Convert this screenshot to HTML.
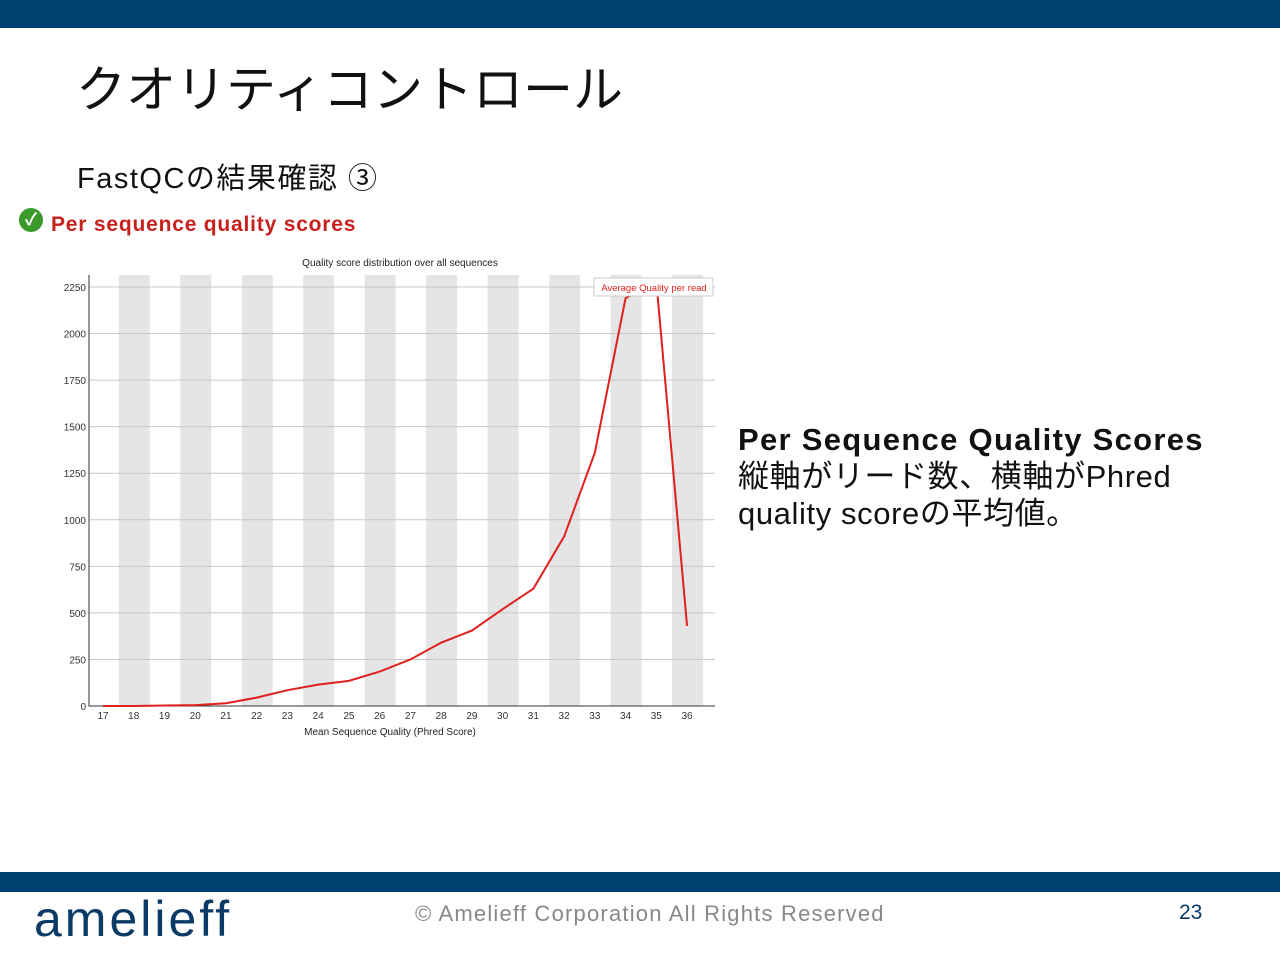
<!DOCTYPE html>
<html><head><meta charset="utf-8"><style>
body{margin:0;width:1280px;height:960px;position:relative;background:#fff;font-family:"Liberation Sans","Noto Sans CJK JP",sans-serif;overflow:hidden}
.abs{position:absolute;white-space:nowrap}
</style></head><body>
<div class="abs" style="left:0;top:0;width:1280px;height:28px;background:#004070"></div>
<div class="abs" style="left:76px;top:50px;font-size:50px;color:#111">クオリティコントロール</div>
<div class="abs" style="left:77px;top:155px;font-size:29px;color:#111;letter-spacing:1.5px">FastQCの結果確認 ③</div>
<div class="abs" style="left:19px;top:208px;width:24px;height:24px;border-radius:50%;background:#3a9a2a;color:#fff;font-size:17px;text-align:center;line-height:24px;font-weight:bold">✓</div>
<div class="abs" style="left:51px;top:213px;font-size:21px;color:#c8201c;font-weight:bold;letter-spacing:0.8px">Per sequence quality scores</div>
<svg class="abs" style="left:0;top:0" width="1280" height="960">
<g id="bands"></g><g id="grid"></g><g id="axes"></g>
<polyline id="line" fill="none" stroke="#e0201c" stroke-width="2"/>
<text x="400" y="266" font-size="10" text-anchor="middle" fill="#222">Quality score distribution over all sequences</text>
<text x="390" y="735" font-size="10" text-anchor="middle" fill="#222">Mean Sequence Quality (Phred Score)</text>
<rect x="594" y="278" width="119" height="18" fill="#fff" stroke="#ccc"/>
<text x="654" y="291" font-size="9.5" text-anchor="middle" fill="#e0201c">Average Quality per read</text>
</svg>
<div class="abs" style="left:738px;top:421px;font-size:31px;color:#111;line-height:37px">
<b style="letter-spacing:1.3px">Per Sequence Quality Scores</b><br><span style="letter-spacing:0.6px">縦軸がリード数、横軸がPhred</span><br><span style="letter-spacing:0.6px">quality scoreの平均値。</span></div>
<div class="abs" style="left:0;top:872px;width:1280px;height:20px;background:#004070"></div>
<div class="abs" style="left:34px;top:890px;font-size:50px;color:#0a3a66;letter-spacing:3px">amelieff</div>
<div class="abs" style="left:415px;top:901px;font-size:22px;color:#888;letter-spacing:1.2px">© Amelieff Corporation All Rights Reserved</div>
<div class="abs" style="left:1179px;top:901px;font-size:21px;color:#0a3a66">23</div>
<script>
const categories=[17,18,19,20,21,22,23,24,25,26,27,28,29,30,31,32,33,34,35,36];
const counts=[0,0,3,5,15,45,85,115,135,185,250,340,405,520,630,910,1360,2190,2280,430];
const yTicks=[0,250,500,750,1000,1250,1500,1750,2000,2250];
const NS="http://www.w3.org/2000/svg";
const X=q=>103+(q-17)*30.74, Y=v=>706-v*(419/2250);
function mk(t,a,p){const e=document.createElementNS(NS,t);for(const k in a)e.setAttribute(k,a[k]);p.appendChild(e);return e;}
const bands=document.getElementById('bands'),grid=document.getElementById('grid'),axes=document.getElementById('axes');
categories.forEach(c=>{if(c%2===0){const r=mk('rect',{x:X(c)-15,y:275,width:31,height:431,fill:'#e5e5e5'},bands);

}
const t=mk('text',{x:X(c),y:719,'font-size':10,'text-anchor':'middle',fill:'#333'},axes);t.textContent=c;

});
yTicks.forEach(v=>{const l=mk('line',{x1:89,x2:715,y1:Y(v),y2:Y(v),stroke:'#c8c8c8'},grid);


const t=mk('text',{x:86,y:Y(v)+4,'font-size':10,'text-anchor':'end',fill:'#333'},axes);t.textContent=v;

});
const ax=mk('path',{d:'M89 275V706H715',stroke:'#333',fill:'none'},axes);


document.getElementById('line').setAttribute('points',categories.map((c,i)=>X(c)+','+Y(counts[i])).join(' '));
</script>
</body></html>
